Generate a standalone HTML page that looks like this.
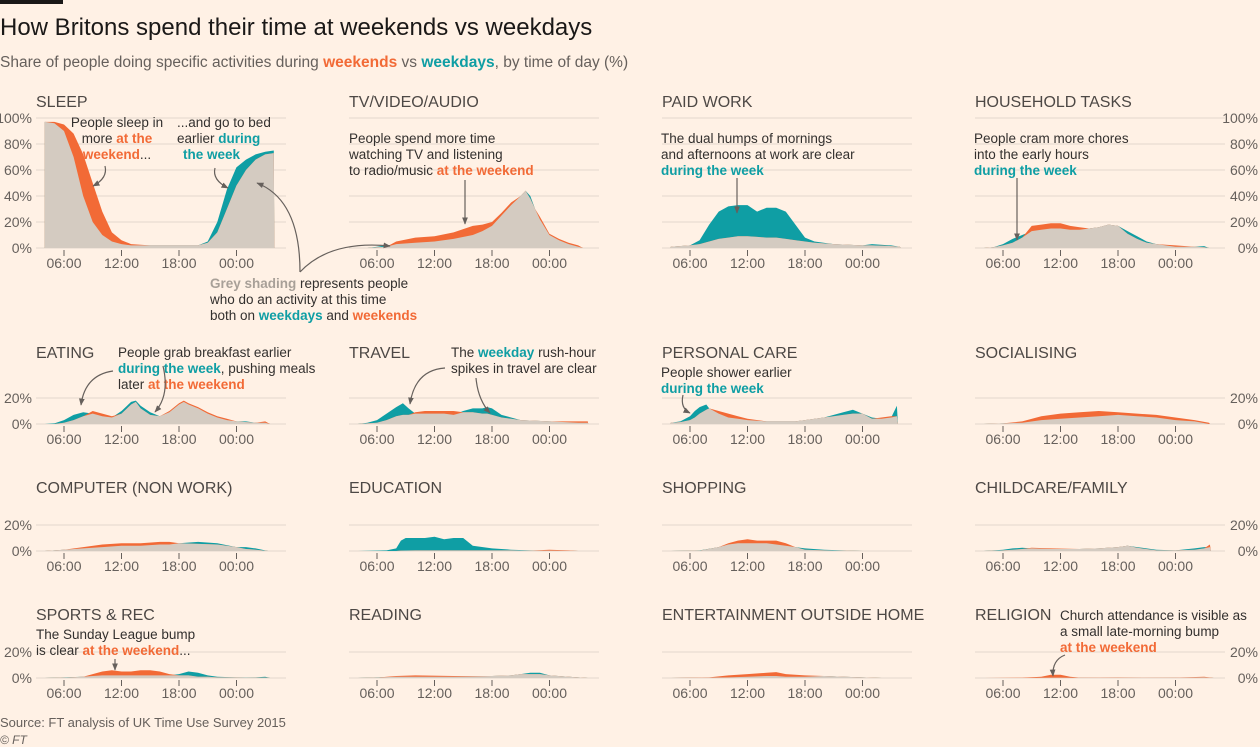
<!DOCTYPE html>
<html><head><meta charset="utf-8"><style>
html,body{margin:0;padding:0;background:#fff1e5;}
svg{display:block;font-family:"Liberation Sans",sans-serif;}
.t{font-size:16px;fill:#4d4845;}
.a{font-size:13.5px;fill:#33302e;}
.k{font-size:14px;fill:#66605c;}
.o{fill:#f26a36;font-weight:bold;}
.b{fill:#0f9ea4;font-weight:bold;}
.g{fill:#a8a098;font-weight:bold;}
</style></head><body>
<svg id="s" width="1260" height="747" viewBox="0 0 1260 747">
<defs><marker id="ah" viewBox="0 0 10 10" refX="9" refY="5" markerWidth="6" markerHeight="6" orient="auto"><path d="M0 1 L10 5 L0 9 Z" fill="#66605c"/></marker></defs>
<rect x="0" y="0" width="1260" height="747" fill="#fff1e5"/>
<rect x="0" y="0" width="63" height="4" fill="#1a1817"/>
<text x="0" y="35" style="font-size:24px;fill:#1a1817">How Britons spend their time at weekends vs weekdays</text>
<text x="0" y="67" style="font-size:15.5px;fill:#66605c">Share of people doing specific activities during <tspan class="o">weekends</tspan> vs <tspan class="b">weekdays</tspan>, by time of day (%)</text>
<g id="charts"></g>
<g id="ann">
<text class="a" text-anchor="middle"><tspan x="117" y="127">People sleep in</tspan><tspan x="117" y="143">more <tspan class="o">at the</tspan></tspan><tspan x="117" y="159"><tspan class="o">weekend</tspan>...</tspan></text>
<text class="a"><tspan x="177" y="127">...and go to bed</tspan><tspan x="177" y="143">earlier <tspan class="b">during</tspan></tspan><tspan x="183" y="159" class="b">the week</tspan></text>
<text class="a"><tspan x="349" y="143">People spend more time</tspan><tspan x="349" y="159">watching TV and listening</tspan><tspan x="349" y="175">to radio/music <tspan class="o">at the weekend</tspan></tspan></text>
<text class="a"><tspan x="210" y="288"><tspan class="g">Grey shading</tspan> represents people</tspan><tspan x="210" y="304">who do an activity at this time</tspan><tspan x="210" y="320">both on <tspan class="b">weekdays</tspan> and <tspan class="o">weekends</tspan></tspan></text>
<text class="a"><tspan x="661" y="143">The dual humps of mornings</tspan><tspan x="661" y="159">and afternoons at work are clear</tspan><tspan x="661" y="175" class="b">during the week</tspan></text>
<text class="a"><tspan x="974" y="143">People cram more chores</tspan><tspan x="974" y="159">into the early hours</tspan><tspan x="974" y="175" class="b">during the week</tspan></text>
<text class="a"><tspan x="118" y="357">People grab breakfast earlier</tspan><tspan x="118" y="373"><tspan class="b">during the week</tspan>, pushing meals</tspan><tspan x="118" y="389">later <tspan class="o">at the weekend</tspan></tspan></text>
<text class="a"><tspan x="451" y="357">The <tspan class="b">weekday</tspan> rush-hour</tspan><tspan x="451" y="373">spikes in travel are clear</tspan></text>
<text class="a"><tspan x="661" y="377">People shower earlier</tspan><tspan x="661" y="393" class="b">during the week</tspan></text>
<text class="a"><tspan x="36" y="639">The Sunday League bump</tspan><tspan x="36" y="655">is clear <tspan class="o">at the weekend</tspan>...</tspan></text>
<text class="a"><tspan x="1060" y="620">Church attendance is visible as</tspan><tspan x="1060" y="636">a small late-morning bump</tspan><tspan x="1060" y="652" class="o">at the weekend</tspan></text>
<g fill="none" stroke="#66605c" stroke-width="1.2" marker-end="url(#ah)">
<path d="M105 166 Q108 178 93 186"/><path d="M215 168 Q212 180 228 188"/>
<path d="M465 180 L465 224"/><path d="M737 178 L737 213"/><path d="M1017 178 L1017 240"/>
<path d="M300 272 Q300 200 257 183"/><path d="M300 272 Q330 240 390 246"/>
<path d="M113 371 Q85 375 81 405"/><path d="M163 366 Q170 395 155 412"/>
<path d="M445 368 Q415 370 410 404"/><path d="M476 378 Q478 400 490 413"/>
<path d="M683 395 Q680 408 690 413"/><path d="M115 659 L115 670"/><path d="M1065 655 Q1052 660 1053 676"/>
</g>
</g>
<text x="0" y="727" style="font-size:13px;fill:#66605c">Source: FT analysis of UK Time Use Survey 2015</text>
<text x="0" y="744" style="font-size:12px;fill:#66605c;font-style:italic">© FT</text>
</svg>
<script>
var D={
sleep:[[4,97,97],[5,96,97],[6,90,95],[7,70,88],[8,40,72],[9,20,50],[10,10,28],[11,5,12],[12,3,6],[13,2,3],[15,2,2],[18,2,2],[20,2,2],[21,5,4],[22,20,12],[23,45,30],[24,62,48],[25,68,60],[26,72,68],[27,74,72],[27.9,75,73],[27.95,0,0]],
tv:[[5,0,0],[6,1,0.5],[7,2,1],[8,3,5],[10,4,8],[12,5,9],[14,7,12],[16,10,17],[17,13,18],[18,17,20],[19,25,27],[20,33,35],[21,40,40],[21.5,44,44],[22,40,38],[22.5,30,30],[23,22,24],[24,10,11],[25,6,7],[26,3,4],[27,1,2],[27.5,0,0]],
work:[[4,1,1],[6,2,2],[7,6,3],[8,18,5],[9,28,7],[10,32,8],[11,33,9],[12,33,9],[13,28,8.5],[14,31,8],[15,31,8],[16,28,7],[17,18,6],[18,8,5],[19,5,4],[21,3,3],[24,2,2],[25,3,2],[27,2,1.5],[27.9,1,1],[28,0,0]],
house:[[4,0,0],[5,0.5,0.5],[6,3,2],[7,7,4],[8,10,8],[9,13,17],[10,14,18],[11,15,19],[12,15,19],[13,14,17],[14,14,16],[15,15,15],[16,16,16],[17,18,18],[18,17,17],[19,13,11],[20,9,7],[21,5,4],[22,3,3],[24,1,2],[26,1,1],[27,1.5,0.5],[27.5,0,0]],
eat:[[4,0,0],[5,0.5,0],[6,3,1],[7,7,3],[8,9,6],[9,8,10],[10,6,8],[11,5,6],[12,10,8],[13,17,15],[13.5,18,17],[14,14,12],[15,9,7],[16,6,6],[17,9,10],[18,15,16],[18.5,17,18],[19,15,16],[20,12,13],[21,8,9],[22,5,6],[23,3,4],[24,2,2],[25,2,1.5],[26,1,1],[27,1,2],[27.5,0,0]],
travel:[[4,0,0],[5,1,0.5],[6,3,1],[7,8,3],[8,13,6],[8.7,16,7],[9.3,12,7],[10,8,9],[11,8,10],[12,8,10],[13,8,10],[14,7,10],[15,10,9],[16,12,9],[17,12,8],[17.5,13,8],[18,12,7],[19,7,5],[20,5,4],[21,3,3],[24,2,2],[27,1,2],[28,1,2],[28.05,0,0]],
care:[[4,1,1],[5,2,1.5],[6,6,3],[6.5,10,5],[7,13,8],[7.7,15,11],[8,12,12],[9,8,10],[10,5,8],[11,4,6],[12,3,4],[14,2,2],[17,2,2],[18,3,3],[20,5,5],[21,7,6],[22,9,7],[23,11,8],[24,8,8],[25,5,4],[26,4,5],[27,5,6],[27.6,14,6],[27.7,0,0]],
social:[[4,0,0],[6,0.5,0.5],[8,1,2],[10,3,6],[12,4,8],[14,5,9],[16,6,10],[18,7,9],[20,6,8],[22,5,7],[24,3,5],[26,2,3],[27.5,0,1],[27.6,0,0]],
comp:[[4,0,0],[6,1,1],[8,2,3],[10,3,5],[12,4,6],[14,4,6],[16,5,7],[17,5,7],[18,6,6],[20,7,5.5],[22,6,5],[24,3,3],[25,3,1.5],[26,2,1],[27.3,0,0]],
edu:[[4,0,0],[7,0.5,0],[8,2,0],[8.5,8,0.3],[9,10,0.4],[10,10,0.5],[11,10,0.5],[12,11,0.5],[13,9,0.5],[14,10,0.5],[15,10,0.5],[16,4,0.5],[18,2,0.5],[20,1,0.5],[22,0.5,0.3],[24,0.3,1],[26,0.2,0.5],[27,0,0]],
shop:[[4,0,0],[7,0.5,0.3],[9,3,3],[10,5,6],[11,6,8],[12,6,9],[13,6,8],[14,6,8],[15,5,8],[16,4,6],[17,3,3],[18,2,1],[20,1,0.5],[22,0.5,0.3],[24,0,0]],
child:[[4,0,0],[6,1,0.5],[7,2,1],[8,2.5,1.5],[9,2,2.5],[11,1.5,2],[14,1.5,1.5],[16,2,2],[18,3,3],[19,4,4],[20,3,2.5],[22,1,0.5],[24,0.5,0.5],[26,2,1],[27,3,2],[27.6,3,5],[27.7,0,0]],
sport:[[4,0,0],[6,0.5,0.3],[8,1,1],[9,1.5,3],[10,2,5],[11,2,6],[12,2,5],[13,2,5],[14,2,6],[15,2,6],[16,2,5],[17,2,3],[18,3,2],[19,5,2],[20,4,1],[21,2,1],[22,1,0.5],[24,0.5,0.5],[26,0.5,0.3],[27,1,0.3],[27.5,0,0]],
read:[[4,0,0],[6,0.5,0.3],[8,1,1.5],[10,1,2],[14,1,1.5],[18,1.5,1.5],[20,2,2],[21,3,3],[22,4,3],[23,4,3],[24,2,2],[26,1,1],[27,0.5,0.5],[28,0,0]],
ent:[[4,0,0],[8,0.3,0.5],[10,0.5,2],[12,1,3],[14,1.5,4],[15,1.5,4.5],[16,1,3],[18,1,2],[20,1.5,1.5],[22,1,1],[24,0.5,0.5],[26,0,0]],
rel:[[4,0,0],[8,0,0.2],[10,0.2,1],[11,0.3,2.5],[12,0.3,2.5],[13,0.2,1],[14,0.2,0.3],[18,0.3,0.5],[24,0.2,0.3],[27,0.5,1],[28,0,0]]
};
var P=[
["SLEEP","sleep",0,0],["TV/VIDEO/AUDIO","tv",1,0],["PAID WORK","work",2,0],["HOUSEHOLD TASKS","house",3,0],
["EATING","eat",0,1],["TRAVEL","travel",1,1],["PERSONAL CARE","care",2,1],["SOCIALISING","social",3,1],
["COMPUTER (NON WORK)","comp",0,2],["EDUCATION","edu",1,2],["SHOPPING","shop",2,2],["CHILDCARE/FAMILY","child",3,2],
["SPORTS & REC","sport",0,3],["READING","read",1,3],["ENTERTAINMENT OUTSIDE HOME","ent",2,3],["RELIGION","rel",3,3]];
var Y0=[248,424,551,678],TY=[107,358,493,620];
var h="";
function area(pts,x0,y0,idx){
 var s="M"+(x0+(pts[0][0]-6)*9.58).toFixed(1)+" "+y0;
 pts.forEach(function(p){var v=idx==3?Math.min(p[1],p[2]):p[idx];s+=" L"+(x0+(p[0]-6)*9.58).toFixed(1)+" "+(y0-v*1.3).toFixed(1);});
 s+=" L"+(x0+(pts[pts.length-1][0]-6)*9.58).toFixed(1)+" "+y0+"Z";return s;}
P.forEach(function(p){
 var c=p[2],r=p[3],x0=64+313*c,y0=Y0[r],gl=36+313*c;
 h+='<text class="t" x="'+gl+'" y="'+TY[r]+'">'+p[0].replace("&","&amp;")+'</text>';
 var max=r==0?100:20;
 for(var v=0;v<=max;v+=20){var y=y0-v*1.3;h+='<line x1="'+gl+'" x2="'+(gl+250)+'" y1="'+y+'" y2="'+y+'" stroke="#e3d8cd" stroke-width="1"/>';
  if(c==0)h+='<text class="k" x="32" y="'+(y+5)+'" text-anchor="end">'+v+'%</text>';
  if(c==3)h+='<text class="k" x="1258" y="'+(y+5)+'" text-anchor="end">'+v+'%</text>';}
 var d=D[p[1]];
 h+='<path d="'+area(d,x0,y0,1)+'" fill="#0f9ea4"/>';
 h+='<path d="'+area(d,x0,y0,2)+'" fill="#f26a36"/>';
 h+='<path d="'+area(d,x0,y0,3)+'" fill="#d4cbc1"/>';
 ["06:00","12:00","18:00","00:00"].forEach(function(t,i){var x=x0+i*57.5;
  h+='<line x1="'+x+'" x2="'+x+'" y1="'+(y0+2)+'" y2="'+(y0+8)+'" stroke="#66605c"/>';
  h+='<text class="k" x="'+x+'" y="'+(y0+20)+'" text-anchor="middle">'+t+'</text>';});
});
document.getElementById("charts").innerHTML=h;
</script>
</body></html>
